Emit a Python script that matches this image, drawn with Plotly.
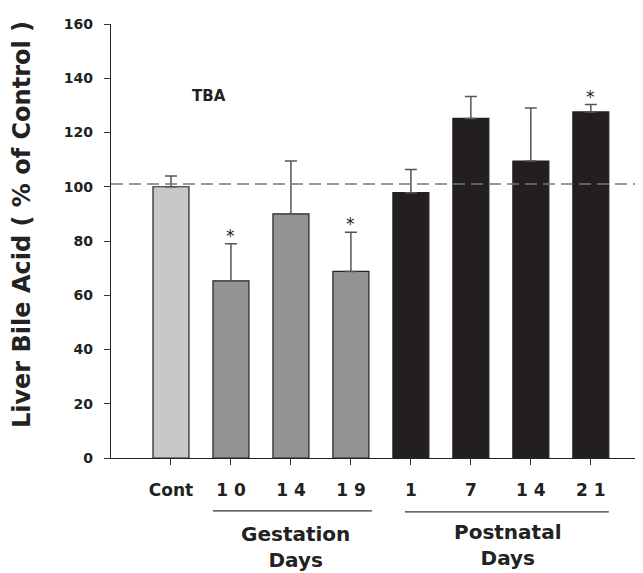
import plotly.graph_objects as go

categories = ["Cont", "1 0", "1 4", "1 9", "1", "7", "1 4", "2 1"]
values = [100, 65.3, 90, 68.8, 97.8, 125.2, 109.5, 127.6]
errors_up = [4, 13.7, 19.5, 14.4, 8.6, 8.1, 19.5, 2.7]
significant = [False, True, False, True, False, False, False, True]
colors = ["#c8c8c8", "#939393", "#939393", "#939393", "#231f20", "#231f20", "#231f20", "#231f20"]
control_line = 101
y_ticks = [0, 20, 40, 60, 80, 100, 120, 140, 160]

xpos = list(range(len(categories)))
FONT = "DejaVu Sans"
TXT = "#222222"

fig = go.Figure()
fig.add_trace(go.Bar(
    x=xpos, y=values, width=0.6,
    marker=dict(color=colors, line=dict(color="#222222", width=1.2)),
    error_y=dict(type="data", symmetric=False, array=errors_up,
                 arrayminus=[0] * len(values), color="#555555",
                 thickness=1.5, width=6),
    showlegend=False,
))

fig.add_shape(type="line", xref="paper", yref="y", x0=0, x1=1,
              y0=control_line, y1=control_line,
              line=dict(color="#777777", width=1.5, dash="12px,6px"), layer="above")

for i, sig in enumerate(significant):
    if sig:
        fig.add_annotation(x=xpos[i], y=values[i] + errors_up[i], text="*",
                           showarrow=False, yshift=8,
                           font=dict(family=FONT, size=17, color=TXT))

fig.add_annotation(x=0.63, y=133.5, text="TBA", showarrow=False,
                   xanchor="center", yanchor="middle",
                   font=dict(family=FONT, size=15, color=TXT, weight="bold"))

# group underline lines & labels
fig.add_shape(type="line", xref="x", yref="paper", x0=0.7, x1=3.35,
              y0=-0.122, y1=-0.122, line=dict(color="#333333", width=1.2))
fig.add_shape(type="line", xref="x", yref="paper", x0=3.9, x1=7.3,
              y0=-0.124, y1=-0.124, line=dict(color="#333333", width=1.2))
fig.add_annotation(x=2.08, y=-0.206, xref="x", yref="paper",
                   text="Gestation<br>Days", showarrow=False, align="center",
                   xanchor="center", yanchor="middle",
                   font=dict(family=FONT, size=20, color=TXT, weight="bold"))
fig.add_annotation(x=5.62, y=-0.2016, xref="x", yref="paper",
                   text="Postnatal<br>Days", showarrow=False, align="center",
                   xanchor="center", yanchor="middle",
                   font=dict(family=FONT, size=20, color=TXT, weight="bold"))

fig.add_annotation(x=-0.167, y=0.537, xref="paper", yref="paper",
                   text="Liver Bile Acid ( % of Control )", textangle=-90,
                   showarrow=False, xanchor="center", yanchor="middle",
                   font=dict(family=FONT, size=24, color=TXT, weight="bold"))

fig.update_layout(
    width=643, height=573,
    margin=dict(l=103, r=8, t=16, b=123),
    paper_bgcolor="white", plot_bgcolor="white",
    xaxis=dict(range=[-1, 7.87], tickvals=xpos, ticktext=categories,
               ticks="outside", ticklen=6, tickcolor="#333333",
               showline=True, linecolor="#222222", linewidth=1.2,
               showgrid=False, zeroline=False, ticklabelstandoff=10,
               tickfont=dict(family=FONT, size=17, color=TXT, weight="bold")),
    yaxis=dict(range=[0, 160], tickvals=y_ticks, ticks="outside", ticklen=6,
               tickcolor="#333333", showline=True, linecolor="#222222", linewidth=1.2,
               showgrid=False, zeroline=False, ticklabelstandoff=8,
               tickfont=dict(family=FONT, size=14, color=TXT, weight="bold")),
)

fig.write_html("out.html")
